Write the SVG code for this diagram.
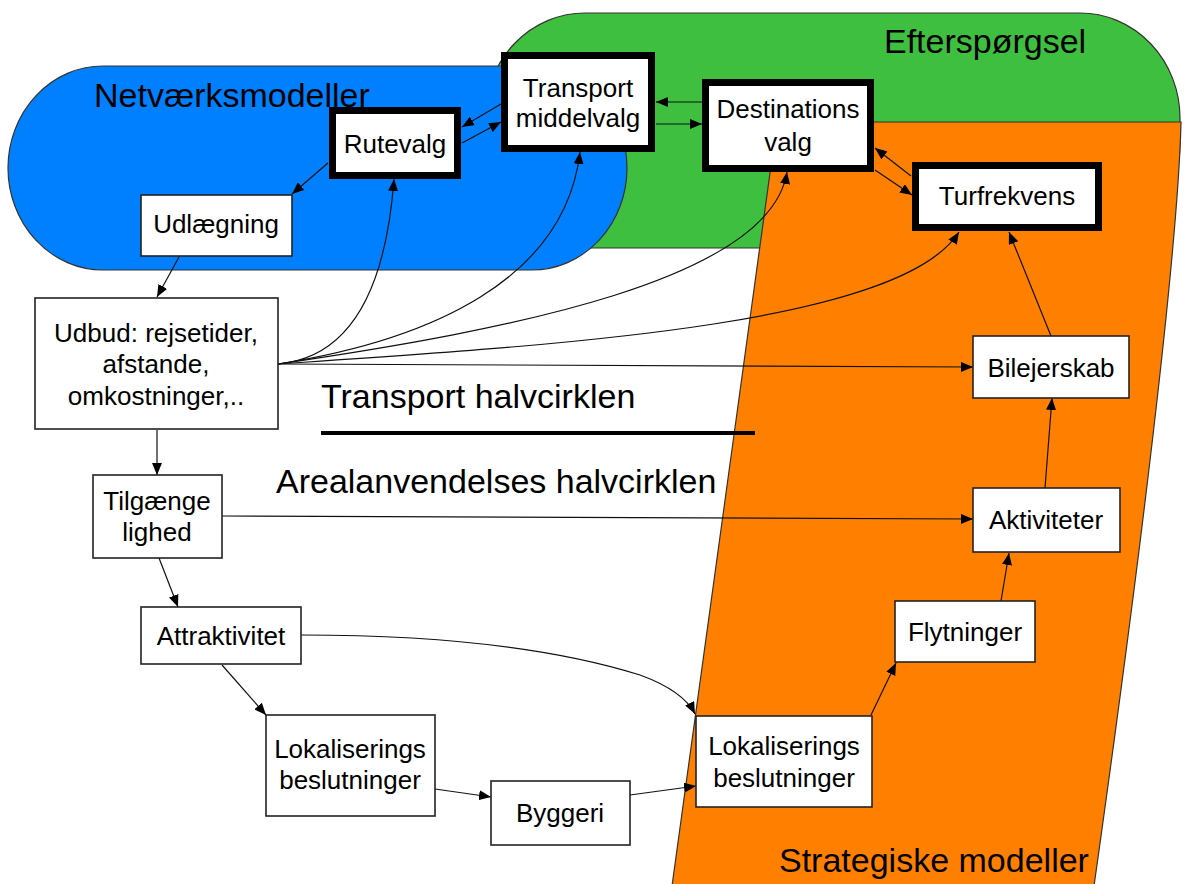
<svg xmlns="http://www.w3.org/2000/svg" width="1190" height="884" viewBox="0 0 1190 884">
<style>
.bg{stroke:#333;stroke-width:1.2}
.box{fill:#fff;stroke:#222;stroke-width:1.6}
.tbox{fill:#fff;stroke:#000;stroke-width:7}
.t{font-family:"Liberation Sans",Arial,sans-serif;font-size:26px;fill:#000;text-anchor:middle}
.big{font-family:"Liberation Sans",Arial,sans-serif;font-size:34px;fill:#000}
.c{fill:none;stroke:#111;stroke-width:1.2;marker-end:url(#a)}
</style>
<defs>
<marker id="a" viewBox="0 0 12 10" refX="12" refY="5" markerWidth="12" markerHeight="10" markerUnits="userSpaceOnUse" orient="auto"><path d="M0,0 L12,5 L0,10 z" fill="#000"/></marker>
</defs>
<rect width="1190" height="884" fill="#fff"/>
<g id="regions">
<rect id="efterspoergsel-region" class="bg" x="485" y="13" width="695" height="235" rx="100" ry="105" fill="#3FBF3F"/>
<rect id="netvaerk-region" class="bg" x="8" y="66" width="619" height="204" rx="95" ry="102" fill="#0080FF"/>
<path id="strategiske-region" class="bg" d="M777,122 L1181,122 C1178,250 1140,560 1094,886 L672,886 Z" fill="#FF8000"/>
</g>
<g id="labels">
<text class="big" x="94" y="107">Netværksmodeller</text>
<text class="big" x="884" y="53">Efterspørgsel</text>
<text class="big" x="321" y="408">Transport halvcirklen</text>
<line x1="321" y1="433" x2="755" y2="433" stroke="#000" stroke-width="4"/>
<text class="big" x="276" y="493">Arealanvendelses halvcirklen</text>
<text class="big" x="779" y="872">Strategiske modeller</text>
</g>
<g id="connectors">
<path class="c" d="M501,104 L462,127"/>
<path class="c" d="M462,143 L501,122"/>
<path class="c" d="M702,102 L656,102"/>
<path class="c" d="M656,124 L702,124"/>
<path class="c" d="M911,176 L875,148"/>
<path class="c" d="M875,170 L912,195"/>
<path class="c" d="M328,163 L292,194"/>
<path class="c" d="M179,257 L157,297"/>
<path class="c" d="M157,430 L157,475"/>
<path class="c" d="M159,558 L178,607"/>
<path class="c" d="M222,665 L266,715"/>
<path class="c" d="M435,789 L491,797"/>
<path class="c" d="M630,795 L696,786"/>
<path class="c" d="M301,635 C450,635 560,650 640,675 C670,686 688,700 695,714"/>
<path class="c" d="M871,715 L896,663"/>
<path class="c" d="M1001,601 L1009,553"/>
<path class="c" d="M1045,488 L1052,398"/>
<path class="c" d="M1051,336 L1009,232"/>
<path class="c" d="M222,516 L973,519"/>
<path class="c" d="M278,364 L973,367"/>
<path class="c" d="M278,364 C345,358 385,300 394,179"/>
<path class="c" d="M278,364 C430,340 565,280 580,152"/>
<path class="c" d="M278,364 C510,330 770,280 787,172"/>
<path class="c" d="M278,364 C560,345 900,325 959,232"/>
</g>
<g id="rutevalg"><rect class="tbox" x="332.5" y="110.5" width="125" height="65"/><text class="t" x="395" y="153">Rutevalg</text></g>
<g id="transportmiddelvalg"><rect class="tbox" x="504.5" y="55.5" width="147" height="93"/><text class="t" x="578" y="97">Transport</text><text class="t" x="578" y="127">middelvalg</text></g>
<g id="destinationsvalg"><rect class="tbox" x="705.5" y="82.5" width="165" height="86"/><text class="t" x="788" y="118">Destinations</text><text class="t" x="788" y="151">valg</text></g>
<g id="turfrekvens"><rect class="tbox" x="915.5" y="165.5" width="183" height="62"/><text class="t" x="1007" y="205">Turfrekvens</text></g>
<g id="udlaegning"><rect class="box" x="141" y="195" width="151" height="61"/><text class="t" x="216" y="233">Udlægning</text></g>
<g id="udbud"><rect class="box" x="35" y="298" width="243" height="131"/><text class="t" x="156" y="342">Udbud: rejsetider,</text><text class="t" x="156" y="373">afstande,</text><text class="t" x="156" y="405">omkostninger,..</text></g>
<g id="tilgaengelighed"><rect class="box" x="93" y="475" width="129" height="83"/><text class="t" x="157" y="510">Tilgænge</text><text class="t" x="157" y="541">lighed</text></g>
<g id="attraktivitet"><rect class="box" x="141" y="607" width="160" height="57"/><text class="t" x="221" y="645">Attraktivitet</text></g>
<g id="lokalisering-venstre"><rect class="box" x="266" y="715" width="169" height="101"/><text class="t" x="350" y="758">Lokaliserings</text><text class="t" x="350" y="789">beslutninger</text></g>
<g id="byggeri"><rect class="box" x="491" y="781" width="139" height="64"/><text class="t" x="560" y="822">Byggeri</text></g>
<g id="lokalisering-hoejre"><rect class="box" x="696" y="716" width="176" height="91"/><text class="t" x="784" y="755">Lokaliserings</text><text class="t" x="784" y="787">beslutninger</text></g>
<g id="flytninger"><rect class="box" x="895" y="601" width="140" height="61"/><text class="t" x="965" y="641">Flytninger</text></g>
<g id="aktiviteter"><rect class="box" x="973" y="488" width="147" height="64"/><text class="t" x="1046" y="529">Aktiviteter</text></g>
<g id="bilejerskab"><rect class="box" x="973" y="336" width="156" height="62"/><text class="t" x="1051" y="377">Bilejerskab</text></g>
</svg>
